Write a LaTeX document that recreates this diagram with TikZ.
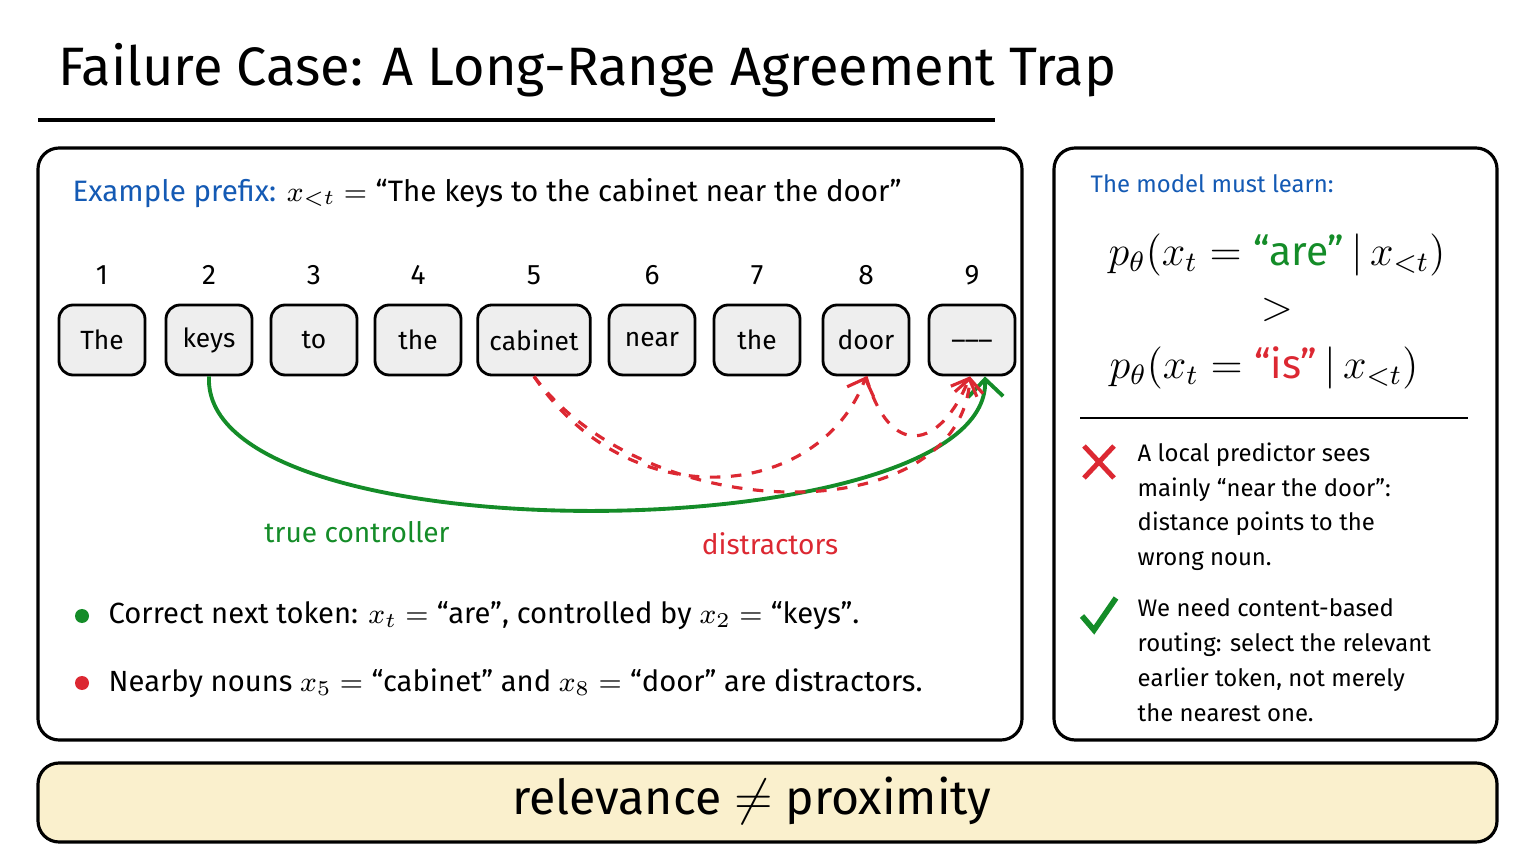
\documentclass[tikz,border=0pt]{standalone}
\usepackage{fontspec}
\usepackage{amsmath}
\setmainfont{Fira Sans}
\usetikzlibrary{arrows.meta}
\definecolor{exblue}{RGB}{20,90,180}
\definecolor{okgreen}{RGB}{20,140,40}
\definecolor{badred}{RGB}{220,40,50}
\definecolor{tokfill}{RGB}{238,238,238}
\definecolor{barfill}{RGB}{250,240,205}
\tikzset{
  panel/.style={draw, line width=0.9pt, rounded corners=6pt},
  tokbox/.style={draw, line width=0.8pt, fill=tokfill, rounded corners=4pt,
    minimum height=0.7cm, font=\fontsize{7.5}{9}\selectfont},
  idx/.style={font=\fontsize{8}{9}\selectfont},
  txt/.style={font=\fontsize{8.3}{10}\selectfont, anchor=west, inner sep=0pt},
  distract/.style={badred, dashed, line width=0.9pt, -{Straight Barb[length=4pt]}},
}
\begin{document}
\begin{tikzpicture}[x=1cm,y=1cm]
    % 100 px of the reference = 1 cm
    \useasboundingbox (0,0) rectangle (15.36,-8.64);
    % title
    \node[anchor=west, font=\fontsize{15.4}{18}\selectfont] (title) at (0.46,-0.70) {Failure Case: A Long-Range Agreement Trap};
    \draw[line width=1.3pt] (0.38,-1.20) -- (9.95,-1.20);
    % panels
    \draw[panel] (0.38,-1.48) rectangle (10.22,-7.40);
    \draw[panel] (10.54,-1.48) rectangle (14.97,-7.40);
    \draw[panel, fill=barfill] (0.38,-7.63) rectangle (14.97,-8.42);
    \node[font=\fontsize{13.7}{16}\selectfont] (motto) at (7.52,-8.01) {relevance $\neq$ proximity};
    % prefix
    \node[txt, font=\fontsize{8.4}{10}\selectfont] (prefix) at (0.72,-1.93) {\textcolor{exblue}{Example prefix:} $x_{<t}=\text{``The keys to the cabinet near the door''}$};
    % tokens
    \foreach \n/\x/\w/\t in {1/1.02/0.86/The, 2/2.09/0.86/keys, 3/3.14/0.86/to, 4/4.18/0.86/the,
        5/5.34/1.1/cabinet, 6/6.52/0.86/near, 7/7.57/0.86/the, 8/8.66/0.86/door, 9/9.72/0.86/\_\_\_}{
      \node[tokbox, minimum width=\w cm] (t\n) at (\x,-3.40) {\t};
      \node[idx] (n\n) at (\x,-2.75) {\n};
    }
    % connectors
    \draw[okgreen, line width=1.1pt, -{Straight Barb[length=5pt]}]
      (t2.south) .. controls (2.0,-5.6) and (9.9,-5.5) .. ([xshift=0.13cm]t9.south);
    \draw[distract] (t5.south) .. controls (6.3,-5.2) and (8.2,-5.0) .. (t8.south);
    \draw[distract] (t5.south) .. controls (6.5,-5.3) and (9.6,-5.3) .. ([xshift=-0.02cm]t9.south);
    \draw[distract] (t8.south) .. controls (8.9,-4.6) and (9.4,-4.5) .. ([xshift=-0.02cm]t9.south);
    \node[font=\fontsize{8}{9}\selectfont, text=okgreen] (lctrl) at (3.57,-5.32) {true controller};
    \node[font=\fontsize{8}{9}\selectfont, text=badred] (ldist) at (7.70,-5.44) {distractors};
    % bullets
    \fill[okgreen] (0.82,-6.16) circle (0.07);
    \node[txt] (b1) at (1.08,-6.16) {Correct next token: $x_t=\text{``are''}$, controlled by $x_2=\text{``keys''}$.};
    \fill[badred] (0.82,-6.83) circle (0.07);
    \node[txt] (b2) at (1.08,-6.83) {Nearby nouns $x_5=\text{``cabinet''}$ and $x_8=\text{``door''}$ are distractors.};
    % right panel
    \node[txt, text=exblue, font=\fontsize{6.8}{8}\selectfont] (learn) at (10.90,-1.84) {The model must learn:};
    \node[font=\fontsize{11.6}{14}\selectfont] (p1) at (12.77,-2.55) {$p_\theta(x_t=\text{\textcolor{okgreen}{``are''}}\,|\,x_{<t})$};
    \node[font=\fontsize{11.6}{14}\selectfont] (gt) at (12.77,-3.10) {$>$};
    \node[font=\fontsize{11.6}{14}\selectfont] (p2) at (12.64,-3.68) {$p_\theta(x_t=\text{\textcolor{badred}{``is''}}\,|\,x_{<t})$};
    \draw[line width=0.8pt] (10.80,-4.18) -- (14.68,-4.18);
    \draw[badred, line width=1.4pt] (10.84,-4.46) -- (11.14,-4.78) (10.84,-4.78) -- (11.14,-4.46);
    \node[txt, align=left, font=\fontsize{6.8}{9.9}\selectfont, anchor=north west] (local) at (11.37,-4.42)
      {A local predictor sees\\mainly ``near the door'':\\distance points to the\\wrong noun.};
    \draw[okgreen, line width=1.6pt] (10.82,-6.16) -- (10.94,-6.30) -- (11.16,-5.98);
    \node[txt, align=left, font=\fontsize{6.8}{9.9}\selectfont, anchor=north west] (need) at (11.37,-5.98)
      {We need content-based\\routing: select the relevant\\earlier token, not merely\\the nearest one.};
\end{tikzpicture}
\end{document}
